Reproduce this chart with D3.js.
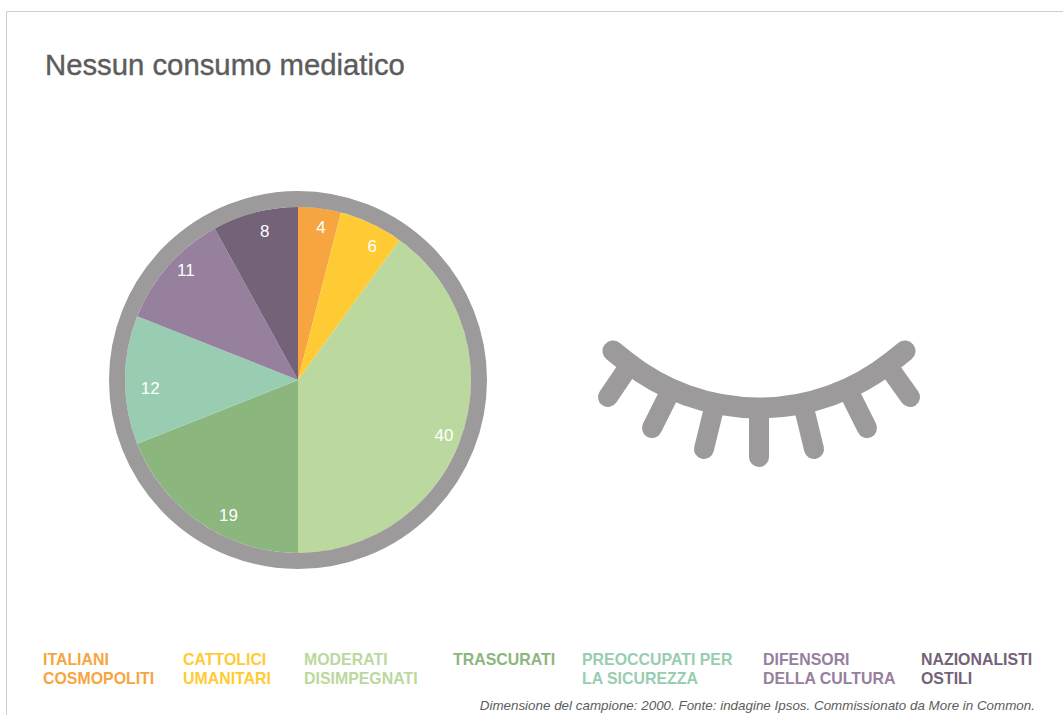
<!DOCTYPE html>
<html>
<head>
<meta charset="utf-8">
<script src="https://cdn.jsdelivr.net/npm/d3@7"></script>
<style>
  html, body { margin: 0; padding: 0; background: #fff; overflow: hidden; }
  svg { display: block; font-family: "Liberation Sans", Arial, sans-serif; }
</style>
</head>
<body>
<script>
const segmenti = ["Italiani cosmopoliti", "Cattolici umanitari", "Moderati disimpegnati", "Trascurati", "Preoccupati per la sicurezza", "Difensori della cultura", "Nazionalisti ostili"]
const valori = [4, 6, 40, 19, 12, 11, 8]
const colori = ["#f7a541", "#ffcb35", "#bbd89e", "#8bb67d", "#99cdb2", "#96809e", "#736278"]
const legendaRighe = [["ITALIANI", "COSMOPOLITI"], ["CATTOLICI", "UMANITARI"], ["MODERATI", "DISIMPEGNATI"], ["TRASCURATI"], ["PREOCCUPATI PER", "LA SICUREZZA"], ["DIFENSORI", "DELLA CULTURA"], ["NAZIONALISTI", "OSTILI"]]

const width = 1063
const height = 715
const grigio = "#9c9a9a"

const svg = d3.select("body").append("svg")
    .attr("width", width)
    .attr("height", height)

// cornice
svg.append("path")
    .attr("d", "M6.5,715V11.5H1063")
    .attr("fill", "none")
    .attr("stroke", "#cccccc")
    .attr("stroke-width", 1)

svg.append("text")
    .attr("x", 45)
    .attr("y", 75)
    .attr("font-size", 29.3)
    .attr("fill", "#5c5c5c")
    .attr("stroke", "#5c5c5c")
    .attr("stroke-width", 0.4)
    .text("Nessun consumo mediatico")

// torta
const raggio = 173
const torta = svg.append("g").attr("transform", "translate(298,380)")
const pie = d3.pie().sort(null).value(d => d)
const arco = d3.arc().innerRadius(0).outerRadius(raggio)
const spicchi = pie(valori)

torta.selectAll("path.spicchio")
    .data(spicchi)
    .join("path")
    .attr("class", "spicchio")
    .attr("d", arco)
    .attr("fill", (d, i) => colori[i])

torta.append("circle")
    .attr("r", raggio + 8)
    .attr("fill", "none")
    .attr("stroke", grigio)
    .attr("stroke-width", 16)

// etichette: spostate a mano rispetto al centro dello spicchio, come nell'originale
const spostaGradi = [1.3, 3.8, 2.7, -7, -3, 3, 1.8]
const raggioEtichetta = [155, 153, 156, 152, 148, 157, 153]
torta.selectAll("text")
    .data(spicchi)
    .join("text")
    .attr("x", (d, i) => raggioEtichetta[i] * Math.sin((d.startAngle + d.endAngle) / 2 + spostaGradi[i] * Math.PI / 180))
    .attr("y", (d, i) => -raggioEtichetta[i] * Math.cos((d.startAngle + d.endAngle) / 2 + spostaGradi[i] * Math.PI / 180))
    .attr("dy", "0.35em")
    .attr("text-anchor", "middle")
    .attr("font-size", 17)
    .attr("fill", "#ffffff")
    .text(d => d.data)

// occhio chiuso
const occhio = svg.append("g")
    .attr("fill", "none")
    .attr("stroke", grigio)
    .attr("stroke-linecap", "round")

const palpebra = d3.path()
palpebra.moveTo(613, 351)
palpebra.arcTo(759, 467, 905, 351, 213)
palpebra.lineTo(905, 351)
occhio.append("path")
    .attr("d", palpebra.toString())
    .attr("stroke-width", 21)

const ciglia = [[627, 369, 608, 397], [668, 396, 652, 428], [714, 408, 704, 449], [759, 412, 759, 457], [804, 408, 814, 449], [851, 396, 867, 428], [890, 369, 910, 397]]
occhio.selectAll("line")
    .data(ciglia)
    .join("line")
    .attr("x1", d => d[0])
    .attr("y1", d => d[1])
    .attr("x2", d => d[2])
    .attr("y2", d => d[3])
    .attr("stroke-width", 20)

// legenda
const legendaX = [43, 183, 304, 453, 582, 763, 921]
const legenda = svg.append("g")
legenda.selectAll("text")
    .data(legendaRighe)
    .join("text")
    .attr("font-size", 15.9)
    .attr("font-weight", "bold")
    .attr("fill", (d, i) => colori[i])
    .each(function (righe, i) {
        d3.select(this).selectAll("tspan")
            .data(righe)
            .join("tspan")
            .attr("x", legendaX[i])
            .attr("y", (r, j) => 665 + j * 19)
            .text(r => r)
    })

svg.append("text")
    .attr("x", 1035)
    .attr("y", 710)
    .attr("text-anchor", "end")
    .attr("font-size", 13.4)
    .attr("font-style", "italic")
    .attr("fill", "#5c5c5c")
    .text("Dimensione del campione: 2000. Fonte: indagine Ipsos. Commissionato da More in Common.")
</script>
</body>
</html>
